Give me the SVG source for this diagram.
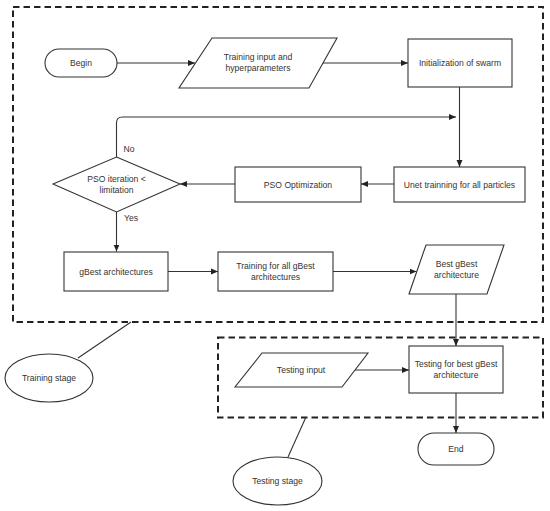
<svg xmlns="http://www.w3.org/2000/svg" width="550" height="511" viewBox="0 0 550 511">
<style>
.s{fill:#fff;stroke:#333;stroke-width:1.1}
.t{font-family:"Liberation Sans",Arial,sans-serif;font-size:8.6px;fill:#333;text-anchor:middle}
.c{fill:none;stroke:#333;stroke-width:1.1}
.d{fill:none;stroke:#222;stroke-width:2;stroke-dasharray:6.5 4}
</style>
<defs>
<marker id="a" markerWidth="8" markerHeight="8" refX="7" refY="4" orient="auto" markerUnits="userSpaceOnUse">
<path d="M0,1 L7,4 L0,7 Z" fill="#222"/>
</marker>
</defs>
<rect width="550" height="511" fill="#fff"/>
<g id="training-stage-box"><rect class="d" x="13" y="7" width="530" height="315"/></g>
<g id="testing-stage-box"><rect class="d" x="218" y="337.5" width="325" height="80"/></g>
<g id="connectors">
<path class="c" d="M117,63 H195" marker-end="url(#a)"/>
<path class="c" d="M323,63 H408" marker-end="url(#a)"/>
<path class="c" d="M459.5,87 V167" marker-end="url(#a)"/>
<path class="c" d="M394,184 H361" marker-end="url(#a)"/>
<path class="c" d="M235,184 H180" marker-end="url(#a)"/>
<path class="c" d="M116.5,157 V123 Q116.5,117 122.5,117 H456" marker-end="url(#a)"/>
<path class="c" d="M116.5,212 V251.5" marker-end="url(#a)"/>
<path class="c" d="M168,271.5 H218" marker-end="url(#a)"/>
<path class="c" d="M333,271.5 H416.5" marker-end="url(#a)"/>
<path class="c" d="M456,294 V346" marker-end="url(#a)"/>
<path class="c" d="M355,370 H409" marker-end="url(#a)"/>
<path class="c" d="M456,393 V433" marker-end="url(#a)"/>
<path class="c" d="M78,358 L131,322"/>
<path class="c" d="M288,457 L306,417"/>
<text class="t" x="129" y="152" text-anchor="middle">No</text>
<text class="t" x="131" y="221" text-anchor="middle">Yes</text>
</g>
<g id="begin"><rect class="s" x="45" y="49" width="72" height="28" rx="14"/><text class="t" x="81" y="66">Begin</text></g>
<g id="training-input"><polygon class="s" points="212,38 337,38 309,88 179,88"/><text class="t" x="258" y="60">Training input and</text><text class="t" x="258" y="71">hyperparameters</text></g>
<g id="init-swarm"><rect class="s" x="408" y="39" width="104" height="48"/><text class="t" x="460" y="66">Initialization of swarm</text></g>
<g id="unet-training"><rect class="s" x="394" y="167" width="131" height="35"/><text class="t" x="459.5" y="187.5">Unet trainning for all particles</text></g>
<g id="pso-optimization"><rect class="s" x="235" y="167" width="126" height="35"/><text class="t" x="298" y="187.5">PSO Optimization</text></g>
<g id="pso-decision"><polygon class="s" points="116.5,157 180,184 116.5,212 53,184"/><text class="t" x="116.5" y="182">PSO iteration &lt;</text><text class="t" x="116.5" y="193">limitation</text></g>
<g id="gbest-arch"><rect class="s" x="64" y="252" width="104" height="39"/><text class="t" x="116" y="274.5">gBest architectures</text></g>
<g id="training-gbest"><rect class="s" x="218" y="252" width="115" height="39"/><text class="t" x="275.5" y="269">Training for all gBest</text><text class="t" x="275.5" y="280">architectures</text></g>
<g id="best-gbest"><polygon class="s" points="426,245 504,245 487,294 409,294"/><text class="t" x="456.5" y="267">Best gBest</text><text class="t" x="456.5" y="278">architecture</text></g>
<g id="testing-input"><polygon class="s" points="262,353 368,353 342,387 235,387"/><text class="t" x="301" y="373">Testing input</text></g>
<g id="testing-best"><rect class="s" x="409" y="346" width="94" height="47"/><text class="t" x="456" y="367">Testing for best gBest</text><text class="t" x="456" y="378">architecture</text></g>
<g id="end"><rect class="s" x="418" y="433" width="76" height="32" rx="16"/><text class="t" x="456" y="452">End</text></g>
<g id="training-stage"><ellipse class="s" cx="49" cy="378" rx="44" ry="24"/><text class="t" x="49" y="381">Training stage</text></g>
<g id="testing-stage"><ellipse class="s" cx="277.5" cy="481" rx="44.5" ry="24"/><text class="t" x="277.5" y="484">Testing stage</text></g>
</svg>
